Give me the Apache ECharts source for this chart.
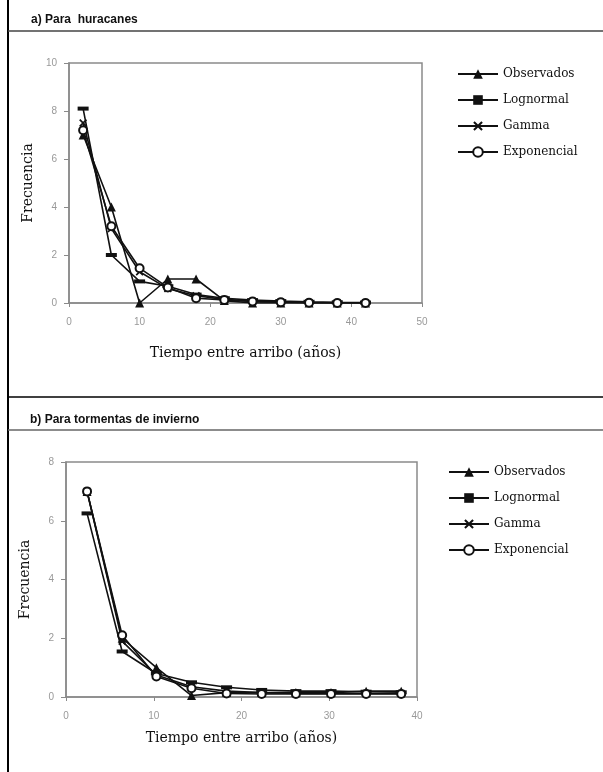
<!DOCTYPE html>
<html>
<head>
<meta charset="utf-8">
<script src="https://cdn.jsdelivr.net/npm/echarts@6/dist/echarts.min.js"></script>
<style>
  html, body { margin: 0; padding: 0; background: #fff; }
  #chart { width: 603px; height: 772px; }
</style>
</head>
<body>
<div id="chart"></div>
<script>
// a) huracanes
var xHur = [2, 6, 10, 14, 18, 22, 26, 30, 34, 38, 42];
var obsHur = [7.0, 4.0, 0, 1.0, 1.0, 0.1, 0, 0, 0, 0, 0];
var lognHur = [8.1, 2.0, 0.9, 0.7, 0.35, 0.2, 0.12, 0.08, 0.05, 0.03, 0.02];
var gammaHur = [7.5, 3.1, 1.3, 0.6, 0.3, 0.15, 0.07, 0.04, 0.02, 0.01, 0.01];
var expHur = [7.2, 3.2, 1.45, 0.65, 0.2, 0.13, 0.06, 0.03, 0.01, 0, 0];

// b) tormentas de invierno
var xInv = [2.4, 6.4, 10.3, 14.3, 18.3, 22.3, 26.2, 30.2, 34.2, 38.2];
var obsInv = [7.0, 2.0, 1.0, 0.05, 0.15, 0.15, 0.15, 0.15, 0.2, 0.2];
var lognInv = [6.25, 1.55, 0.8, 0.5, 0.33, 0.24, 0.2, 0.2, 0.18, 0.16];
var gammaInv = [7.0, 1.9, 0.75, 0.35, 0.2, 0.15, 0.12, 0.12, 0.12, 0.12];
var expInv = [7.0, 2.1, 0.7, 0.3, 0.12, 0.1, 0.1, 0.1, 0.1, 0.1];

var names = ['Observados', 'Lognormal', 'Gamma', 'Exponencial'];

var chart = echarts.init(document.getElementById('chart'));

var serif = 'DejaVu Serif';
var gray = '#8a8a8a';
var crossPath = 'path://M0,1.5L1.5,0L5,3.5L8.5,0L10,1.5L6.5,5L10,8.5L8.5,10L5,6.5L1.5,10L0,8.5L3.5,5Z';

function pairs(xs, ys) {
  var out = [];
  for (var i = 0; i < xs.length; i++) {
    out.push([xs[i], ys[i]]);
  }
  return out;
}

function xAx(idx, max, gap) {
  return {
    gridIndex: idx,
    type: 'value',
    min: 0,
    max: max,
    interval: 10,
    name: 'Tiempo entre arribo (años)',
    nameLocation: 'middle',
    nameGap: gap,
    nameTextStyle: { fontFamily: serif, fontSize: 14, color: '#111' },
    axisLine: { onZero: false, lineStyle: { color: gray, width: 1.5 } },
    axisTick: { show: true, length: 4, lineStyle: { color: gray } },
    axisLabel: { fontFamily: 'Arial', fontSize: 10, color: '#999', margin: 14 },
    splitLine: { show: false }
  };
}

function yAx(idx, max) {
  return {
    gridIndex: idx,
    type: 'value',
    min: 0,
    max: max,
    interval: 2,
    name: 'Frecuencia',
    nameLocation: 'middle',
    nameGap: 34,
    nameTextStyle: { fontFamily: serif, fontSize: 14, color: '#111' },
    axisLine: { show: true, lineStyle: { color: gray, width: 1.5 } },
    axisTick: { show: true, length: 5, lineStyle: { color: gray } },
    axisLabel: { fontFamily: 'Arial', fontSize: 10, color: '#999', margin: 12 },
    splitLine: { show: false }
  };
}

function makeSeries(idx, xs, obs, logn, gam, ex) {
  var base = {
    type: 'line',
    xAxisIndex: idx,
    yAxisIndex: idx,
    lineStyle: { color: '#111', width: 1.6 },
    itemStyle: { color: '#111' },
    showAllSymbol: true,
    animation: false
  };
  return [
    Object.assign({}, base, { name: names[0], data: pairs(xs, obs), symbol: 'triangle', symbolSize: 9 }),
    Object.assign({}, base, { name: names[1], data: pairs(xs, logn), symbol: 'rect', symbolSize: [11, 4] }),
    Object.assign({}, base, { name: names[2], data: pairs(xs, gam), symbol: crossPath, symbolSize: 8 }),
    Object.assign({}, base, { name: names[3], data: pairs(xs, ex), symbol: 'emptyCircle', symbolSize: 8,
      itemStyle: { color: '#111', borderWidth: 1.5 } })
  ];
}

function legend(idx, left, top) {
  return {
    data: names,
    orient: 'vertical',
    left: left,
    top: top,
    itemWidth: 40,
    itemHeight: 12,
    itemGap: 12,
    textStyle: { fontFamily: serif, fontSize: 12, color: '#111', lineHeight: 14 },
    selectedMode: false
  };
}

var option = {
  backgroundColor: '#fff',
  animation: false,
  title: [
    { text: 'a) Para  huracanes', left: 26, top: 9,
      textStyle: { fontFamily: 'Liberation Sans', fontWeight: 'bold', fontSize: 12, color: '#111' } },
    { text: 'b) Para tormentas de invierno', left: 25, top: 409,
      textStyle: { fontFamily: 'Liberation Sans', fontWeight: 'bold', fontSize: 12, color: '#111' } }
  ],
  grid: [
    { left: 69, top: 63, width: 353, height: 240, show: true, borderColor: gray, borderWidth: 1.5 },
    { left: 66, top: 462, width: 351, height: 235, show: true, borderColor: gray, borderWidth: 1.5 }
  ],
  xAxis: [xAx(0, 50, 43), xAx(1, 40, 34)],
  yAxis: [yAx(0, 10), yAx(1, 8)],
  legend: [legend(0, 452, 62), legend(1, 443, 460)],
  series: makeSeries(0, xHur, obsHur, lognHur, gammaHur, expHur)
    .concat(makeSeries(1, xInv, obsInv, lognInv, gammaInv, expInv)),
  graphic: [
    { type: 'line', shape: { x1: 8, y1: 0, x2: 8, y2: 772 }, style: { stroke: '#000', lineWidth: 2 } },
    { type: 'line', shape: { x1: 8, y1: 31, x2: 603, y2: 31 }, style: { stroke: '#444', lineWidth: 1.5 } },
    { type: 'line', shape: { x1: 8, y1: 397, x2: 603, y2: 397 }, style: { stroke: '#000', lineWidth: 1.5 } },
    { type: 'line', shape: { x1: 8, y1: 430, x2: 603, y2: 430 }, style: { stroke: '#666', lineWidth: 1.5 } }
  ]
};

chart.setOption(option);
</script>
</body>
</html>
